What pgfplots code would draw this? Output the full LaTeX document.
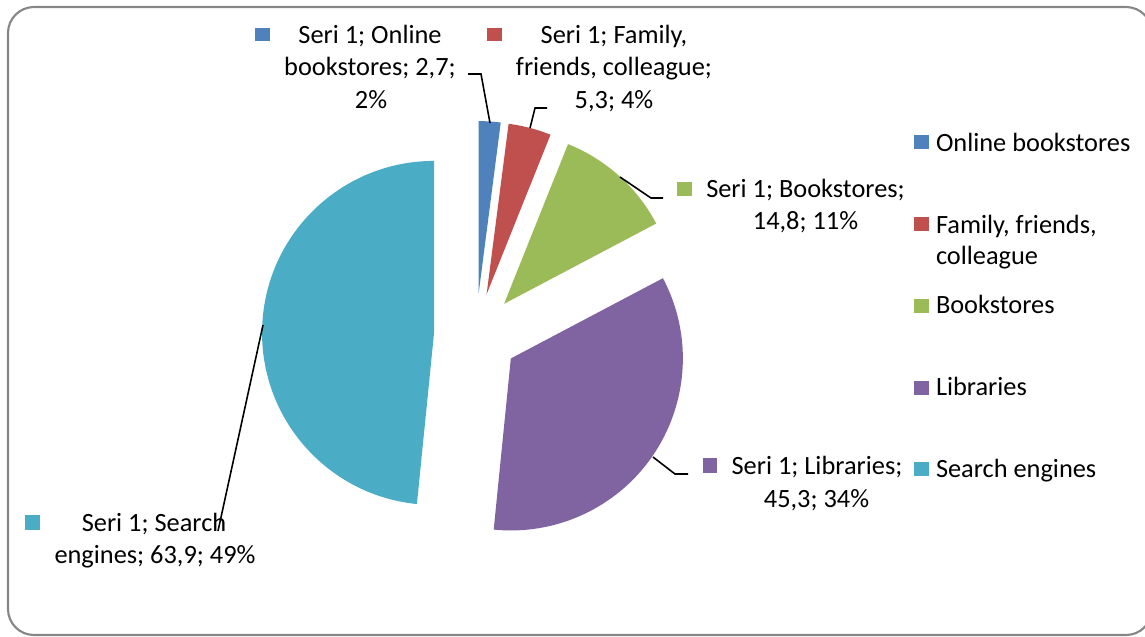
\documentclass[border=0pt]{standalone}
\usepackage{fontspec}
\setmainfont{Carlito}
\usepackage{pgfplots}
\usepackage{pgfplotstable}
\pgfplotsset{compat=1.18}
\definecolor{cA}{HTML}{4F81BD}
\definecolor{cB}{HTML}{C0504D}
\definecolor{cC}{HTML}{9BBB59}
\definecolor{cD}{HTML}{8064A2}
\definecolor{cE}{HTML}{4BACC6}
\definecolor{frame}{HTML}{868686}
\tikzset{lbl/.style={inner sep=0pt, outer sep=0pt, font=\fontsize{7.5}{9.4}\selectfont, text=black}}
\pgfplotstableread{
source value
Online 2.7
Family 5.3
Bookstores 14.8
Libraries 45.3
Search 63.9
}\piedata
\begin{document}
\begin{tikzpicture}
\pgfplotstablegetelem{0}{value}\of\piedata \edef\va{\pgfplotsretval}
\pgfplotstablegetelem{1}{value}\of\piedata \edef\vb{\pgfplotsretval}
\pgfplotstablegetelem{2}{value}\of\piedata \edef\vc{\pgfplotsretval}
\pgfplotstablegetelem{3}{value}\of\piedata \edef\vd{\pgfplotsretval}
\pgfplotstablegetelem{4}{value}\of\piedata \edef\ve{\pgfplotsretval}
\pgfmathsetmacro\tot{\va+\vb+\vc+\vd+\ve}
\pgfmathsetmacro\aA{90}
\pgfmathsetmacro\aB{90-360*(\va/\tot)}
\pgfmathsetmacro\aC{90-360*((\va+\vb)/\tot)}
\pgfmathsetmacro\aD{90-360*((\va+\vb+\vc)/\tot)}
\pgfmathsetmacro\aE{90-360*((\va+\vb+\vc+\vd)/\tot)}
\pgfmathsetmacro\aF{-270}
\pgfmathsetmacro\mA{(\aA+\aB)/2}
\pgfmathsetmacro\mB{(\aB+\aC)/2}
\pgfmathsetmacro\mC{(\aC+\aD)/2}
\pgfmathsetmacro\mD{(\aD+\aE)/2}
\pgfmathsetmacro\mE{(\aE+\aF)/2}
\begin{axis}[
  width=114.5mm, height=63.6mm, scale only axis,
  xmin=0, xmax=1145, ymin=0, ymax=636,
  hide axis, clip=true,
]
% frame
\draw[frame, line width=0.6pt, rounded corners=2.6mm] (axis cs:8,1) rectangle (axis cs:1152,629);
% slices
\fill[cA, shift={(\mA:4.2mm)}] (axis cs:476,301) -- ++(\aA:17.2mm) arc[start angle=\aA, end angle=\aB, radius=17.2mm] -- cycle;
\fill[cB, shift={(\mB:4.2mm)}] (axis cs:476,301) -- ++(\aB:17.2mm) arc[start angle=\aB, end angle=\aC, radius=17.2mm] -- cycle;
\fill[cC, shift={(\mC:4.2mm)}] (axis cs:476,301) -- ++(\aC:17.2mm) arc[start angle=\aC, end angle=\aD, radius=17.2mm] -- cycle;
\fill[cD, shift={(\mD:4.2mm)}] (axis cs:476,301) -- ++(\aD:17.2mm) arc[start angle=\aD, end angle=\aE, radius=17.2mm] -- cycle;
\fill[cE, shift={(\mE:4.2mm)}] (axis cs:476,301) -- ++(\aE:17.2mm) arc[start angle=\aE, end angle=\aF, radius=17.2mm] -- cycle;
% leader lines
\draw[black, line width=0.45pt] (axis cs:490,513) -- (axis cs:481,562) -- (axis cs:468,562);
\draw[black, line width=0.45pt] (axis cs:530,508) -- (axis cs:535,528) -- (axis cs:547,528);
\draw[black, line width=0.45pt] (axis cs:620,459) -- (axis cs:651,438) -- (axis cs:663,438);
\draw[black, line width=0.45pt] (axis cs:653,179) -- (axis cs:675,162) -- (axis cs:688,162);
\draw[black, line width=0.45pt] (axis cs:263,311) -- (axis cs:218,105);
% data label keys
\fill[cA] (axis cs:255,595) rectangle (axis cs:270,608);
\fill[cB] (axis cs:487,595) rectangle (axis cs:502,608);
\fill[cC] (axis cs:677,440) rectangle (axis cs:692,454);
\fill[cD] (axis cs:703,163) rectangle (axis cs:717,178);
\fill[cE] (axis cs:25,106) rectangle (axis cs:40,121);
% data labels
\node[lbl, anchor=base] at (axis cs:370,593) {Seri 1; Online};
\node[lbl, anchor=base] at (axis cs:370,561) {bookstores; 2,7;};
\node[lbl, anchor=base] at (axis cs:371,528) {2\%};
\node[lbl, anchor=base] at (axis cs:614,593) {Seri 1; Family,};
\node[lbl, anchor=base] at (axis cs:614,561) {friends, colleague;};
\node[lbl, anchor=base] at (axis cs:614,528) {5,3; 4\%};
\node[lbl, anchor=base] at (axis cs:805.5,439) {Seri 1; Bookstores;};
\node[lbl, anchor=base] at (axis cs:805.5,407) {14,8; 11\%};
\node[lbl, anchor=base] at (axis cs:817,162) {Seri 1; Libraries;};
\node[lbl, anchor=base] at (axis cs:816.5,129) {45,3; 34\%};
\node[lbl, anchor=base] at (axis cs:154,105) {Seri 1; Search};
\node[lbl, anchor=base] at (axis cs:155,73) {engines; 63,9; 49\%};
% legend
\fill[cA] (axis cs:914,487) rectangle (axis cs:929,501);
\fill[cB] (axis cs:914,405) rectangle (axis cs:929,419);
\fill[cC] (axis cs:914,323) rectangle (axis cs:929,337);
\fill[cD] (axis cs:914,241) rectangle (axis cs:929,255);
\fill[cE] (axis cs:914,160) rectangle (axis cs:929,174);
\node[lbl, anchor=base west] at (axis cs:936,485) {Online bookstores};
\node[lbl, anchor=base west] at (axis cs:936,403) {Family, friends,};
\node[lbl, anchor=base west] at (axis cs:936,372) {colleague};
\node[lbl, anchor=base west] at (axis cs:936,323) {Bookstores};
\node[lbl, anchor=base west] at (axis cs:936,241) {Libraries};
\node[lbl, anchor=base west] at (axis cs:936,159) {Search engines};
\end{axis}
\pgfresetboundingbox
\path[use as bounding box] (current axis.south west) rectangle (current axis.north east);
\end{tikzpicture}
\end{document}
